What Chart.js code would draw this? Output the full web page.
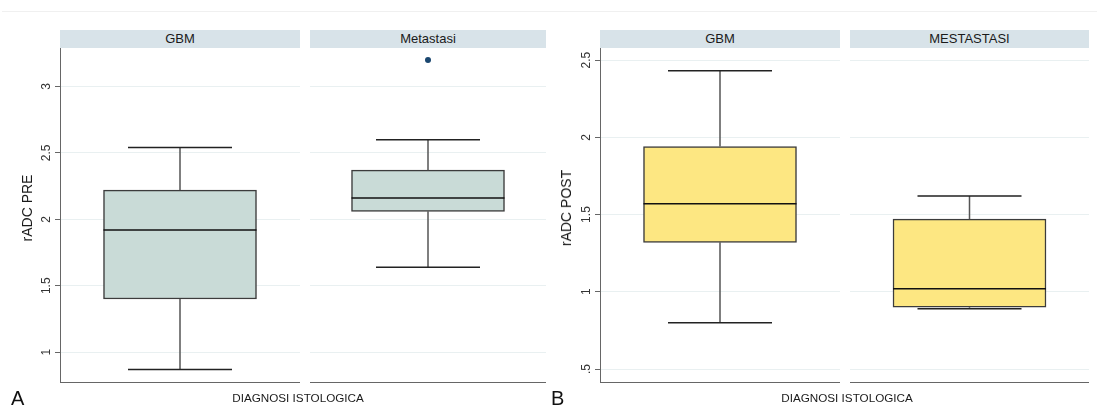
<!DOCTYPE html>
<html>
<head>
<meta charset="utf-8">
<script src="https://cdn.jsdelivr.net/npm/chart.js@4/dist/chart.umd.min.js"></script>
<style>
  html, body { margin: 0; padding: 0; background: #fff; }
  #wrap { position: relative; width: 1097px; height: 412px; overflow: hidden; font-family: "Liberation Sans", Arial, sans-serif; color: #1a1a1a; }
  canvas { position: absolute; top: 0; }
  .strip { position: absolute; top: 30px; height: 18px; background: #d8e3e9; font-size: 13px; line-height: 18px; text-align: center; color: #1a1a1a; }
  .ytitle { position: absolute; font-size: 14px; white-space: nowrap; transform: translate(-50%, -50%) rotate(-90deg); color: #1a1a1a; }
  .xtitle { position: absolute; top: 391px; font-size: 11.7px; white-space: nowrap; transform: translateX(-50%); color: #1a1a1a; }
  .letter { position: absolute; top: 387px; font-size: 20px; color: #111; }
  .topline { position: absolute; left: 2px; top: 11px; width: 1095px; height: 1px; background: #f0f0f0; }
</style>
</head>
<body>
<div id="wrap"><div class="topline"></div></div>
<script>
// ---------- DATA ----------
const facetsA = ['GBM', 'Metastasi'];
const preLow    = [0.87, 1.64];
const preQ1     = [1.40, 2.06];
const preMedian = [1.92, 2.16];
const preQ3     = [2.22, 2.37];
const preHigh   = [2.54, 2.60];
const preOutliers = [null, 3.20];
const ticksA = [1, 1.5, 2, 2.5, 3];
const tickLabelsA = ['1', '1.5', '2', '2.5', '3'];

const facetsB = ['GBM', 'MESTASTASI'];
const postLow    = [0.80, 0.89];
const postQ1     = [1.32, 0.90];
const postMedian = [1.57, 1.02];
const postQ3     = [1.94, 1.47];
const postHigh   = [2.43, 1.62];
const postOutliers = [null, null];
const ticksB = [0.5, 1, 1.5, 2, 2.5];
const tickLabelsB = ['.5', '1', '1.5', '2', '2.5'];

const titleA = 'rADC PRE';
const titleB = 'rADC POST';
const xTitle = 'DIAGNOSI ISTOLOGICA';
// ---------------------------

const wrap = document.getElementById('wrap');

const boxPlugin = {
  id: 'boxWhisker',
  afterDatasetsDraw(chart, args, o) {
    const { ctx, scales: { x, y } } = chart;
    const cx = x.getPixelForValue(0);
    const half = o.boxWidth / 2;
    ctx.save();
    ctx.lineCap = 'butt';
    ctx.strokeStyle = '#555';
    ctx.lineWidth = 1.5;
    ctx.beginPath();
    ctx.moveTo(cx, y.getPixelForValue(o.q3));
    ctx.lineTo(cx, y.getPixelForValue(o.hi));
    ctx.moveTo(cx, y.getPixelForValue(o.q1));
    ctx.lineTo(cx, y.getPixelForValue(o.lo));
    ctx.stroke();
    ctx.strokeStyle = '#222';
    ctx.beginPath();
    ctx.moveTo(cx - o.capHalf, y.getPixelForValue(o.hi));
    ctx.lineTo(cx + o.capHalf, y.getPixelForValue(o.hi));
    ctx.moveTo(cx - o.capHalf, y.getPixelForValue(o.lo));
    ctx.lineTo(cx + o.capHalf, y.getPixelForValue(o.lo));
    ctx.stroke();
    ctx.strokeStyle = '#111';
    ctx.beginPath();
    ctx.moveTo(cx - half, y.getPixelForValue(o.med));
    ctx.lineTo(cx + half, y.getPixelForValue(o.med));
    ctx.stroke();
    ctx.restore();
  }
};

function makeFacet(p) {
  const cv = document.createElement('canvas');
  cv.width = p.width; cv.height = 412;
  cv.style.left = p.left + 'px';
  wrap.appendChild(cv);
  const first = p.showAxis;
  new Chart(cv.getContext('2d'), {
    type: 'bar',
    data: {
      labels: [p.label],
      datasets: [
        {
          type: 'bar',
          data: [[p.q1, p.q3]],
          backgroundColor: p.fill,
          borderColor: '#3c3c3c',
          borderWidth: 1.5,
          borderSkipped: false,
          barThickness: p.boxWidth
        },
        {
          type: 'line',
          data: [p.outlier],
          showLine: false,
          pointRadius: 3,
          pointBackgroundColor: '#1a476f',
          pointBorderColor: '#1a476f',
          pointBorderWidth: 0,
          clip: false
        }
      ]
    },
    options: {
      responsive: false,
      animation: false,
      devicePixelRatio: 1,
      layout: { autoPadding: false, padding: { top: 48, bottom: 30, left: 0, right: 0 } },
      plugins: {
        legend: { display: false },
        tooltip: { enabled: false },
        boxWhisker: { lo: p.lo, q1: p.q1, med: p.med, q3: p.q3, hi: p.hi, boxWidth: p.boxWidth, capHalf: 52 }
      },
      scales: {
        x: {
          type: 'category',
          ticks: { display: false },
          grid: { display: true, color: 'rgba(0,0,0,0)', drawTicks: false },
          border: { display: true, color: '#666', width: 1 },
          afterFit: s => { s.height = 0; }
        },
        y: {
          type: 'linear',
          min: p.min, max: p.max,
          afterBuildTicks: s => { s.ticks = p.ticks.map(v => ({ value: v })); },
          ticks: {
            display: first,
            minRotation: 90, maxRotation: 90,
            crossAlign: 'center',
            padding: 0,
            color: '#333',
            font: { family: '"Liberation Sans", Arial, sans-serif', size: 12 },
            callback: (v, i) => p.tickLabels[i]
          },
          grid: { color: '#e9f0f1', lineWidth: 1, drawTicks: first, tickLength: 5, tickColor: '#666' },
          border: { display: first, color: '#666', width: 1 },
          afterFit: s => { s.width = first ? p.axisWidth : 0; }
        }
      }
    },
    plugins: [boxPlugin]
  });
}

function addStrip(left, width, text) {
  const d = document.createElement('div');
  d.className = 'strip';
  d.style.left = left + 'px'; d.style.width = width + 'px';
  d.textContent = text;
  wrap.appendChild(d);
}
function addText(cls, x, text) {
  const d = document.createElement('div');
  d.className = cls;
  d.style.left = x + 'px';
  d.textContent = text;
  wrap.appendChild(d);
}

// Panel A
const layoutA = [
  { left: 0, width: 300, axisWidth: 60, stripLeft: 60, stripWidth: 240 },
  { left: 310, width: 236, axisWidth: 0, stripLeft: 310, stripWidth: 236 }
];
facetsA.forEach((f, i) => {
  const L = layoutA[i];
  makeFacet({
    left: L.left, width: L.width, axisWidth: L.axisWidth, showAxis: i === 0,
    label: f, lo: preLow[i], q1: preQ1[i], med: preMedian[i], q3: preQ3[i], hi: preHigh[i],
    outlier: preOutliers[i], min: 0.775, max: 3.29, ticks: ticksA, tickLabels: tickLabelsA,
    fill: '#c9dbd7', boxWidth: 153
  });
  addStrip(L.stripLeft, L.stripWidth, f);
});

// Panel B
const layoutB = [
  { left: 540, width: 300, axisWidth: 60, stripLeft: 600, stripWidth: 240 },
  { left: 850, width: 239, axisWidth: 0, stripLeft: 850, stripWidth: 239 }
];
facetsB.forEach((f, i) => {
  const L = layoutB[i];
  makeFacet({
    left: L.left, width: L.width, axisWidth: L.axisWidth, showAxis: i === 0,
    label: f, lo: postLow[i], q1: postQ1[i], med: postMedian[i], q3: postQ3[i], hi: postHigh[i],
    outlier: postOutliers[i], min: 0.416, max: 2.578, ticks: ticksB, tickLabels: tickLabelsB,
    fill: '#fde782', boxWidth: 153
  });
  addStrip(L.stripLeft, L.stripWidth, f);
});

const ta = document.createElement('div'); ta.className = 'ytitle'; ta.style.left = '27px'; ta.style.top = '208px'; ta.textContent = titleA; wrap.appendChild(ta);
const tb = document.createElement('div'); tb.className = 'ytitle'; tb.style.left = '566px'; tb.style.top = '208px'; tb.textContent = titleB; wrap.appendChild(tb);
addText('xtitle', 298, xTitle);
addText('xtitle', 847, xTitle);
addText('letter', 11, 'A');
addText('letter', 551, 'B');
</script>
</body>
</html>
